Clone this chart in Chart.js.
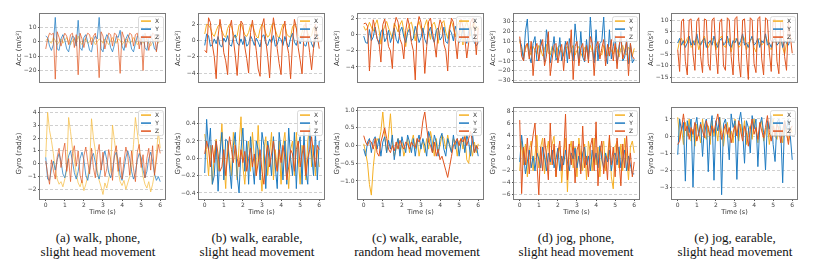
<!DOCTYPE html>
<html>
<head>
<meta charset="utf-8">
<script src="https://cdn.jsdelivr.net/npm/chart.js@4/dist/chart.umd.min.js"></script>
<style>
html,body{margin:0;padding:0;background:#fff;}
body{width:830px;height:272px;position:relative;overflow:hidden;}
canvas{position:absolute;}
.cap{position:absolute;width:180px;text-align:center;font-family:"Liberation Serif","Times New Roman",serif;font-size:13px;line-height:14px;color:#111;top:231px;}
</style>
</head>
<body>
<div id="wrap"></div>
<div class="cap" style="left:8px">(a) walk, phone,<br>slight head movement</div>
<div class="cap" style="left:167px">(b) walk, earable,<br>slight head movement</div>
<div class="cap" style="left:327px">(c) walk, earable,<br>random head movement</div>
<div class="cap" style="left:486px">(d) jog, phone,<br>slight head movement</div>
<div class="cap" style="left:645px">(e) jog, earable,<br>slight head movement</div>
<script>
// ---------- data ----------
const TIME = [0,0.1,0.2,0.3,0.4,0.5,0.6,0.7,0.8,0.9,1,1.1,1.2,1.3,1.4,1.5,1.6,1.7,1.8,1.9,2,2.1,2.2,2.3,2.4,2.5,2.6,2.7,2.8,2.9,3,3.1,3.2,3.3,3.4,3.5,3.6,3.7,3.8,3.9,4,4.1,4.2,4.3,4.4,4.5,4.6,4.7,4.8,4.9,5,5.1,5.2,5.3,5.4,5.5,5.6,5.7,5.8,5.9,6];
const SERIES_NAMES = ['X','Y','Z'];
const X_TICKS = [0,1,2,3,4,5,6];
const X_TICK_LABELS = ['0','1','2','3','4','5','6'];

// (a) walk, phone
const aAccX = [1,2,0,-1,3,1,-2,0,2,-1,1,3,0,-2,1,2,-1,4,0,-2,1,2,-1,0,3,1,-2,0,2,1,-1,2,0,-2,1,3,0,-1,2,1,-2,0,2,1,-1,0,3,1,-2,0,2,-1,1,2,-1,-3,0,2,1,-1,2];
const aAccY = [4,3,-3,-6,-2,17,-5,-6,2,5,1,-5,-7,0,4,3,-3,15,-4,-6,3,5,0,-6,-7,1,4,2,17,-5,-7,1,5,3,-4,-7,-2,4,3,8,-3,-6,2,5,2,-5,-7,-1,4,3,-2,5,-4,-6,2,5,1,-5,-6,2,4];
const aAccZ = [-5,2,6,5,6,-26,7,3,-3,2,6,4,-2,5,6,-4,5,-23,6,2,-4,3,6,5,-2,4,6,-3,-25,7,4,-5,1,6,5,-3,6,5,-2,-22,7,3,-4,2,6,5,-3,5,6,-5,4,-20,6,2,-6,1,6,5,-7,4,5];
const aGyrX = [0.5,4.0,2.6,1.8,0.8,-0.5,-1.2,-1.6,-1.4,-1.8,-1.2,-0.5,3.6,2.5,1.2,0.3,-0.8,-1.5,-1.8,-1.3,-2.1,-1.6,-1.0,-0.2,3.5,2.0,1.0,-0.5,-1.3,-1.8,-2.4,-1.5,-1.9,-1.2,-0.4,3.0,1.8,0.7,-0.6,-1.4,-1.7,-1.3,-2.0,-1.5,-1.0,-0.3,1.5,3.6,2.4,1.2,0.1,-1.0,-1.6,-1.9,-1.4,-2.2,-1.6,-0.8,0.8,2.5,1.2];
const aGyrY = [0.5,-1.2,-1.3,-0.4,0.2,-0.5,0.3,0.8,0.2,-0.8,-1.1,-0.3,0.6,1.0,0.2,-0.7,-1.2,-0.6,0.4,0.9,0.3,-0.9,-1.3,-0.5,0.5,0.8,0.1,-0.8,-1.2,-0.4,0.4,1.0,0.3,-0.7,-1.1,-0.5,0.6,0.9,0.2,-0.9,-1.3,-0.4,0.5,1.0,0.4,-0.6,-1.2,-0.7,0.3,0.8,0.5,-0.5,-1.1,-0.6,0.4,0.9,0.2,-0.8,-1.3,-1.0,-1.4];
const aGyrZ = [0.2,-0.8,-1.6,0.3,-0.5,-1.2,0.5,1.2,-0.3,0.9,1.6,-0.6,0.4,-1.4,0.8,1.4,-0.2,1.0,-0.9,-1.5,0.6,1.3,0.2,-0.8,1.2,-0.3,-1.1,0.7,1.5,-0.5,0.9,-1.0,-0.4,1.1,0.3,-1.3,0.8,1.4,-0.6,0.5,-1.2,0.2,1.3,0.6,-0.9,1.0,-0.4,-1.4,0.9,1.5,-0.3,0.7,-1.1,0.4,1.2,-0.5,1.4,-0.9,0.3,1.5,0.8];

// (b) walk, earable, slight head movement
const bAccX = [0.8,2.0,1.9,1.5,0.8,0.5,1.2,1.8,2.0,1.2,0.6,0.4,1.5,2.0,1.8,0.8,0.3,0.6,1.9,2.1,1.4,0.7,0.5,1.0,1.9,2.0,1.2,0.5,0.3,1.4,2.0,1.7,0.9,0.4,0.7,1.8,2.2,1.3,0.6,0.3,1.2,2.0,1.9,0.8,0.5,0.4,1.7,2.0,1.5,0.7,0.3,1.0,1.9,1.8,0.9,0.4,0.6,1.6,1.2,0.5,0.2];
const bAccY = [-0.6,0.8,0.6,-0.7,-0.5,0.2,-0.4,0.5,-0.6,-0.8,0.3,-0.2,0.6,-0.5,-0.7,0.4,0.7,-0.3,-0.6,0.2,-0.5,0.5,-0.7,-0.4,0.6,0.1,-0.6,0.3,-0.2,-0.8,0.5,0.7,-0.4,-0.6,0.2,-0.3,0.6,-0.7,-0.5,0.4,0.1,-0.6,0.5,-0.3,-0.8,0.3,0.9,-0.2,-0.6,0.4,-0.4,0.6,-0.5,-0.7,0.3,0.5,-0.4,-0.9,0.2,0.6,0.7];
const bAccZ = [-1.2,-1.5,2.8,2.2,-0.5,-2.0,-4.7,0.5,2.6,1.0,-1.5,-2.5,-4.2,1.5,2.5,0.2,-1.8,-4.3,-0.5,2.4,2.0,-0.8,-2.2,-4.0,1.0,2.5,0.6,-1.2,-3.5,-4.4,1.8,2.7,0.0,-2.0,-4.6,0.2,2.8,1.2,-1.0,-2.8,-4.2,1.3,2.4,-0.4,-1.6,-4.7,-0.3,2.6,1.6,-0.9,-2.4,-4.1,0.9,2.2,0.4,-1.5,-3.6,-1.0,2.0,0.5,-1.0];
const bGyrX = [0.28,0.1,-0.2,0.15,-0.3,0.05,0.22,-0.15,0.1,0.4,-0.05,-0.35,0.2,0.0,-0.2,0.3,0.1,-0.25,0.15,0.48,-0.1,-0.3,0.05,0.2,-0.15,0.3,0.0,-0.2,0.38,-0.1,-0.38,0.1,0.25,-0.2,0.05,0.3,-0.25,0.1,-0.15,0.2,-0.3,0.15,0.3,-0.05,-0.35,0.1,0.2,-0.2,0.3,0.0,-0.3,0.15,0.05,-0.25,0.2,0.38,-0.1,0.15,-0.2,0.1,-0.1];
const bGyrY = [-0.17,0.45,0.1,0.35,-0.3,-0.2,0.2,-0.38,0.05,0.3,-0.25,0.22,0.2,-0.1,-0.35,0.15,0.3,-0.2,-0.4,0.1,0.35,-0.15,0.2,-0.3,0.25,-0.05,-0.3,0.2,0.1,-0.25,0.3,0.15,-0.35,0.2,0.05,-0.2,0.25,-0.1,-0.35,0.3,0.1,-0.25,0.2,-0.3,0.35,0.0,-0.2,0.3,-0.35,0.15,0.25,-0.3,0.3,-0.15,-0.3,0.35,0.05,-0.2,0.3,-0.25,0.2];
const bGyrZ = [0.05,0.2,0.1,-0.1,0.15,-0.05,0.2,0.05,-0.15,-0.1,0.1,-0.2,0.05,0.25,0.1,-0.05,0.15,0.0,-0.1,0.1,-0.05,0.08,-0.15,0.0,0.12,-0.1,0.05,-0.2,-0.05,0.1,-0.15,-0.3,0.0,0.15,-0.1,0.05,0.2,0.0,-0.15,0.1,-0.05,0.15,0.0,-0.25,-0.1,0.1,0.05,-0.15,0.1,0.2,-0.1,0.05,0.15,-0.2,0.0,0.1,0.25,0.05,-0.1,0.15,0.1];

// (c) walk, earable, random head movement
const cAccX = [1.0,0.5,0.8,1.5,0.9,0.4,1.2,1.8,0.6,-1.2,0.3,1.0,1.6,0.8,0.2,-0.5,1.4,0.9,0.3,1.2,1.7,0.5,-1.5,0.6,1.3,1.5,0.4,-0.8,1.0,1.6,0.7,0.2,1.1,1.8,0.5,-0.6,1.2,1.5,0.6,-1.1,0.5,1.4,1.7,0.3,-0.5,1.0,1.6,0.8,-0.3,1.1,1.5,0.4,-1.3,0.9,1.6,0.7,-0.2,1.2,1.4,0.5,1.0];
const cAccY = [-0.2,-1.0,-1.1,0.6,-0.8,-0.3,0.9,-0.5,-1.2,0.3,0.7,-0.9,-0.4,0.5,-1.0,-0.2,0.8,-0.6,-1.1,0.4,0.9,-0.3,-1.0,0.2,0.7,-0.8,-0.5,1.0,0.1,-1.0,-0.4,0.8,-0.6,-1.2,0.3,0.9,-0.4,-1.0,0.5,0.8,-0.7,-0.3,0.9,-0.9,-1.1,0.6,0.2,-0.8,1.0,0.3,-1.0,-0.5,0.7,-0.2,-1.1,0.4,0.9,-0.6,-1.0,-1.4,-1.0];
const cAccZ = [1.3,1.4,1.0,-4.5,-0.5,1.8,0.8,-0.5,-1.0,-3.4,1.2,1.9,0.2,-1.5,-2.0,-4.2,1.0,2.1,1.5,-0.6,-1.2,-3.0,0.5,2.0,1.0,-1.0,-2.0,-5.6,0.8,2.2,1.5,-0.5,-4.8,-1.5,1.6,2.0,0.3,-1.0,-2.8,0.5,1.8,1.2,-1.2,-2.0,-4.5,0.5,2.0,1.5,-0.8,-3.0,0.2,1.9,1.0,-0.5,-2.9,-1.0,1.5,2.0,0.5,-2.5,0.8];
const cGyrX = [0.05,-0.2,-0.5,-1.1,-1.4,-0.6,-0.1,0.2,0.1,0.4,0.95,0.3,-0.2,0.3,0.9,0.1,-0.3,-0.1,0.2,-0.2,0.1,-0.3,-0.1,0.2,-0.2,0.1,0.3,-0.1,0.2,-0.3,0.0,0.1,-0.2,0.2,-0.1,0.4,0.1,-0.3,0.2,-0.2,0.0,0.3,0.2,-0.1,0.3,0.0,-0.2,0.2,0.1,-0.3,0.1,0.2,-0.1,0.3,-0.4,-0.5,0.0,-0.3,0.1,-0.2,0.05];
const cGyrY = [-0.1,-0.3,0.1,0.2,-0.2,0.15,0.25,-0.1,0.2,-0.3,0.1,0.25,-0.2,0.15,-0.1,0.3,-0.4,0.0,0.2,-0.3,0.25,0.0,-0.2,0.3,0.1,-0.2,0.2,-0.3,0.1,0.3,-0.1,0.2,0.0,-0.3,0.4,0.2,-0.2,0.3,0.1,-0.3,0.2,0.35,-0.1,-0.3,0.2,0.0,-0.2,0.3,-0.1,0.2,-0.3,0.1,0.25,-0.2,0.3,0.1,-0.3,0.35,-0.2,0.0,-0.3];
const cGyrZ = [0.28,0.1,0.0,0.15,0.1,-0.1,0.2,-0.2,-0.3,0.1,0.3,0.5,0.2,-0.1,-0.2,0.0,-0.15,0.1,-0.1,0.15,0.0,-0.1,0.1,0.05,-0.1,0.1,0.0,-0.05,0.2,0.1,0.25,0.7,0.95,0.5,0.1,0.0,-0.2,0.1,-0.3,-0.1,-0.4,-0.3,-0.5,-0.7,-0.9,-0.6,-0.3,0.0,0.1,0.2,0.0,0.2,0.1,0.25,0.0,0.2,0.4,0.1,-0.2,0.0,-0.1];

// (d) jog, phone, slight head movement
const dAccX = [10,3,-5,2,8,0,-4,5,1,-3,6,2,-5,3,7,-2,-4,5,2,-6,4,6,-1,-5,3,5,-3,2,6,-4,1,5,-2,-6,4,3,-3,6,0,-5,3,5,-2,-4,6,2,-5,4,1,-3,5,2,-6,3,6,-2,-4,4,2,-5,3];
const dAccY = [12,5,-10,20,33,-5,-12,8,15,-10,-8,12,5,-11,22,10,-12,0,15,-9,-5,14,-10,-3,10,-12,13,2,-10,28,8,-12,20,-6,-11,12,-8,35,5,-12,22,-10,8,10,35,-5,-13,22,-8,5,16,-12,0,20,-10,-6,12,-13,8,-12,-8];
const dAccZ = [15,-5,-10,5,8,-8,10,-25,2,8,-10,5,12,-15,-5,20,-25,-8,6,8,-12,0,7,-20,5,10,-8,22,-29,5,10,-15,3,8,-10,6,-12,15,8,-25,5,10,-8,3,12,-15,7,-5,12,-10,8,-18,5,15,-8,0,10,-25,8,-5,-8];
const dGyrX = [-2.0,3.0,-1.0,2.5,-3.0,1.5,3.0,-2.0,0.5,4.0,-1.5,2.0,3.5,-2.5,1.0,3.0,-1.0,2.5,3.8,-3.0,0.5,2.0,-4.0,1.0,3.5,-5.5,1.5,3.0,-1.5,2.0,-3.0,3.5,0.5,-2.0,2.5,-3.5,3.0,1.0,-2.0,3.5,-1.0,2.0,-3.0,1.5,3.0,-2.0,0.5,3.5,-3.0,-5.0,2.0,3.0,-1.5,2.5,-2.0,3.5,0.5,-3.5,2.0,3.0,1.0];
const dGyrY = [-0.5,4.0,1.0,-2.5,-0.5,1.5,-1.5,0.5,-2.0,1.0,0.0,-1.5,2.0,0.5,-2.0,1.0,-0.5,1.5,-1.5,0.0,1.8,-2.0,0.5,-1.0,1.5,-0.5,-2.0,1.0,0.0,1.8,-1.5,0.5,-2.0,1.0,2.0,-1.0,0.5,-2.0,1.5,-0.5,1.0,-1.5,2.2,0.0,-1.5,1.0,-0.5,1.5,-2.0,0.5,1.0,-1.0,2.0,-1.5,0.0,1.5,-2.0,0.5,-1.0,-2.5,-2.5];
const dGyrZ = [6.5,-5.8,2.0,-1.0,3.5,-2.5,1.5,4.0,6.0,-0.5,-6.0,2.0,-2.0,3.5,0.5,-3.5,6.0,-1.0,2.5,-3.0,1.0,3.0,-2.0,0.5,7.5,-3.5,2.5,-1.0,3.0,-4.0,1.5,2.5,-2.5,5.5,-1.5,0.5,-3.0,2.0,3.5,-2.0,6.2,-4.5,1.0,3.0,-2.5,0.5,-3.5,4.0,-1.0,2.0,-3.0,3.5,0.0,-4.5,2.5,-1.5,4.0,-2.0,1.0,-3.0,-0.5];

// (e) jog, earable, slight head movement
const eAccX = [-3,1,2,-1,0,2,3,-2,-1,1,2,-3,0,1,3,-1,-2,0,2,1,-3,0,2,3,-1,-2,1,2,-4,0,2,1,-2,-1,3,2,-3,0,1,2,-2,-4,1,2,-1,0,3,1,-2,-3,1,2,-1,0,2,-2,-5,0,2,1,2];
const eAccY = [0,2,-1,1,-2,0,3,-1,1,-1,4,0,-1,1,2,-2,0,1,-1,3,0,-2,1,2,-1,0,3,-1,-2,1,0,2,-1,1,4,-1,0,-2,1,3,-1,0,2,-2,1,0,4,-1,0,-2,1,2,-1,0,3,-2,1,0,-1,2,1];
const eAccZ = [-3,-12.5,9.5,10.5,-8,-14,10,10.5,-5,-12,9.5,11,-6,-13,10.5,10,-9,-12,10,11,-4,-13.5,9,10.5,-10,-12,11,10,-6,-14,10.5,11.5,-8,-15,10,10.5,-5,-16,11,10,-9,-13,10.5,11.5,-7,-14,11,10,-4,-12.5,10,10.5,-8,-13.5,9.5,10,-6,-12,9,3,-4.5];
const eGyrX = [1.1,-0.2,0.5,-0.5,0.8,0.0,1.0,-0.3,0.4,-0.6,0.7,0.2,-0.4,1.0,0.1,-0.2,0.6,-0.5,0.9,0.0,0.5,-0.3,1.1,0.2,-0.6,0.4,0.8,-0.1,0.3,-0.4,1.0,0.1,-0.3,0.7,0.0,0.9,-0.5,0.3,0.6,-0.2,1.0,0.2,-0.4,0.5,0.9,-0.3,0.2,0.7,-0.5,0.4,1.0,0.0,-0.2,0.6,0.3,-0.4,0.8,0.1,-0.3,0.5,0.2];
const eGyrY = [-1.1,1.0,0.3,0.8,-2.65,0.9,0.2,1.0,-3.0,0.5,1.1,0.0,0.8,-1.2,0.6,1.0,-2.1,0.4,1.2,-2.6,0.9,0.3,1.1,-3.45,0.7,1.0,0.2,-1.4,1.3,0.5,0.9,-2.55,0.8,1.4,0.3,-1.6,0.9,0.5,-1.0,1.2,0.4,1.0,-1.8,0.6,1.1,0.2,-2.0,0.9,0.4,1.2,-0.5,-1.5,0.8,1.0,0.3,-2.75,0.9,0.4,1.0,0.0,-1.4];
const eGyrZ = [-0.5,-0.3,0.4,1.3,0.3,0.6,-0.2,0.5,0.1,0.8,-0.3,0.2,0.7,0.3,-0.1,0.9,0.4,0.0,0.6,0.2,0.8,1.3,0.5,-0.2,0.3,0.7,0.1,0.5,-0.4,0.2,0.6,0.0,0.9,0.3,-0.3,0.6,0.2,-0.6,0.4,1.0,0.1,0.5,-0.2,0.8,0.3,-0.1,0.5,1.2,0.2,-0.3,0.6,0.0,0.7,0.4,-0.4,0.3,0.9,0.2,-0.5,0.4,0.6];

// y-axis tick values and labels
const aAccTicks = [-20,-10,0,10];           const aAccTickLabels = ['\u221220','\u221210','0','10'];
const aGyrTicks = [-2,-1,0,1,2,3,4];        const aGyrTickLabels = ['\u22122','\u22121','0','1','2','3','4'];
const bAccTicks = [-4,-2,0,2];              const bAccTickLabels = ['\u22124','\u22122','0','2'];
const bGyrTicks = [-0.4,-0.2,0,0.2,0.4];    const bGyrTickLabels = ['\u22120.4','\u22120.2','0.0','0.2','0.4'];
const cAccTicks = [-4,-2,0,2];              const cAccTickLabels = ['\u22124','\u22122','0','2'];
const cGyrTicks = [-1,-0.5,0,0.5,1];        const cGyrTickLabels = ['\u22121.0','\u22120.5','0.0','0.5','1.0'];
const dAccTicks = [-30,-20,-10,0,10,20,30]; const dAccTickLabels = ['\u221230','\u221220','\u221210','0','10','20','30'];
const dGyrTicks = [-6,-4,-2,0,2,4,6,8];     const dGyrTickLabels = ['\u22126','\u22124','\u22122','0','2','4','6','8'];
const eAccTicks = [-15,-10,-5,0,5,10];      const eAccTickLabels = ['\u221215','\u221210','\u22125','0','5','10'];
const eGyrTicks = [-3,-2,-1,0,1];           const eGyrTickLabels = ['\u22123','\u22122','\u22121','0','1'];

// ---------- presentation ----------
Chart.defaults.font.family = '"DejaVu Sans", sans-serif';
const COLORS = ['#f5b024', '#1f7bc1', '#e0541e'];
const COLORS_FADED = ['rgba(245,190,70,0.75)', 'rgba(31,123,193,0.75)', 'rgba(224,84,30,0.7)'];
const BOX_LEFT = [40, 199, 358, 514, 672];
const BOX_W = 125;

const framePlugin = {
  id: 'frame',
  afterDatasetsDraw(chart) {
    const a = chart.chartArea, ctx = chart.ctx;
    ctx.save();
    ctx.strokeStyle = '#7a7a7a';
    ctx.lineWidth = 1;
    ctx.strokeRect(Math.round(a.left) - 0.5, Math.round(a.top) - 0.5, Math.round(a.right - a.left) + 1, Math.round(a.bottom - a.top) + 1);
    // legend
    const cols = chart.options.plugins.frame.colors;
    const w = 25, h = 25;
    const x0 = a.right - 2 - w, y0 = a.top + 2;
    ctx.fillStyle = 'rgba(255,255,255,0.8)';
    ctx.strokeStyle = '#d0d0d0';
    ctx.lineWidth = 0.8;
    ctx.beginPath();
    if (ctx.roundRect) ctx.roundRect(x0 + 0.5, y0 + 0.5, w, h, 2); else ctx.rect(x0 + 0.5, y0 + 0.5, w, h);
    ctx.fill(); ctx.stroke();
    ctx.font = '6px "DejaVu Sans", sans-serif';
    ctx.textBaseline = 'middle';
    ctx.textAlign = 'center';
    for (let i = 0; i < 3; i++) {
      const yy = y0 + 5 + i * 8;
      ctx.strokeStyle = cols[i];
      ctx.lineWidth = 1.5;
      ctx.beginPath(); ctx.moveTo(x0 + 3, yy); ctx.lineTo(x0 + 13, yy); ctx.stroke();
      ctx.fillStyle = '#333';
      ctx.fillText(SERIES_NAMES[i], x0 + 19, yy + 0.5);
    }
    ctx.restore();
  }
};

function makeChart(idx, isBottom, series, ymin, ymax, yTicks, yLabels, yTitle, faded) {
  const cv = document.createElement('canvas');
  const boxTop = isBottom ? 107 : 13;
  const boxH = isBottom ? 92 : 89;
  const left = BOX_LEFT[idx] - 26;
  const top = boxTop - 4;
  const W = 26 + BOX_W + 3;
  const H = 4 + boxH + (isBottom ? 20 : 4);
  cv.width = W; cv.height = H;
  cv.style.left = left + 'px'; cv.style.top = top + 'px';
  cv.style.width = W + 'px'; cv.style.height = H + 'px';
  document.body.appendChild(cv);
  const cols = faded ? COLORS_FADED : COLORS;
  new Chart(cv, {
    type: 'line',
    data: {
      labels: TIME,
      datasets: series.map((s, i) => ({
        label: SERIES_NAMES[i],
        data: s,
        borderColor: cols[i],
        borderWidth: 1,
        pointRadius: 0,
        tension: 0,
        fill: false,
        order: 2 - i
      }))
    },
    plugins: [framePlugin],
    options: {
      responsive: false,
      animation: false,
      devicePixelRatio: 1,
      layout: { padding: { left: 1, right: 3, top: 4, bottom: isBottom ? 0 : 4 } },
      plugins: { legend: { display: false }, tooltip: { enabled: false }, frame: { colors: COLORS } },
      scales: {
        x: {
          type: 'linear',
          min: -0.3, max: 6.25,
          display: isBottom,
          afterFit(s) { s.height = 20; },
          afterBuildTicks(s) { s.ticks = X_TICKS.map(v => ({ value: v })); },
          ticks: { autoSkip: false, maxRotation: 0, padding: 1, color: '#444', font: { size: 6 },
                   callback: (v, i) => X_TICK_LABELS[i] },
          grid: { drawOnChartArea: false, tickLength: 2, color: '#555', tickColor: '#555' },
          border: { display: false },
          title: { display: true, text: 'Time (s)', color: '#333', font: { size: 6.5 }, padding: { top: 0, bottom: 3 } }
        },
        y: {
          min: ymin, max: ymax,
          afterFit(s) { s.width = 25; },
          afterBuildTicks(s) { s.ticks = yTicks.map(v => ({ value: v })); },
          ticks: { autoSkip: false, padding: 1.5, color: '#444', font: { size: 6 },
                   callback: (v, i) => yLabels[i] },
          grid: { color: '#c4c4c4', lineWidth: 0.8, tickLength: 2, tickColor: '#555', tickWidth: 1 },
          border: { display: false, dash: [3, 2] },
          title: { display: true, text: yTitle, color: '#333', font: { size: 7 }, padding: { top: 0, bottom: 0 } }
        }
      }
    }
  });
}

const ACC = 'Acc (m/s\u00B2)';
const GYR = 'Gyro (rad/s)';
makeChart(0, false, [aAccX, aAccY, aAccZ], -28, 19.3, aAccTicks, aAccTickLabels, ACC, true);
makeChart(0, true,  [aGyrX, aGyrY, aGyrZ], -2.75, 4.33, aGyrTicks, aGyrTickLabels, GYR, true);
makeChart(1, false, [bAccX, bAccY, bAccZ], -5.1, 3.25, bAccTicks, bAccTickLabels, ACC, false);
makeChart(1, true,  [bGyrX, bGyrY, bGyrZ], -0.47, 0.58, bGyrTicks, bGyrTickLabels, GYR, false);
makeChart(2, false, [cAccX, cAccY, cAccZ], -5.85, 2.5, cAccTicks, cAccTickLabels, ACC, false);
makeChart(2, true,  [cGyrX, cGyrY, cGyrZ], -1.51, 1.06, cGyrTicks, cGyrTickLabels, GYR, false);
makeChart(3, false, [dAccX, dAccY, dAccZ], -31.5, 38, dAccTicks, dAccTickLabels, ACC, false);
makeChart(3, true,  [dGyrX, dGyrY, dGyrZ], -6.7, 8.5, dGyrTicks, dGyrTickLabels, GYR, false);
makeChart(4, false, [eAccX, eAccY, eAccZ], -17.1, 12.6, eAccTicks, eAccTickLabels, ACC, false);
makeChart(4, true,  [eGyrX, eGyrY, eGyrZ], -3.7, 1.64, eGyrTicks, eGyrTickLabels, GYR, false);
</script>
</body>
</html>
